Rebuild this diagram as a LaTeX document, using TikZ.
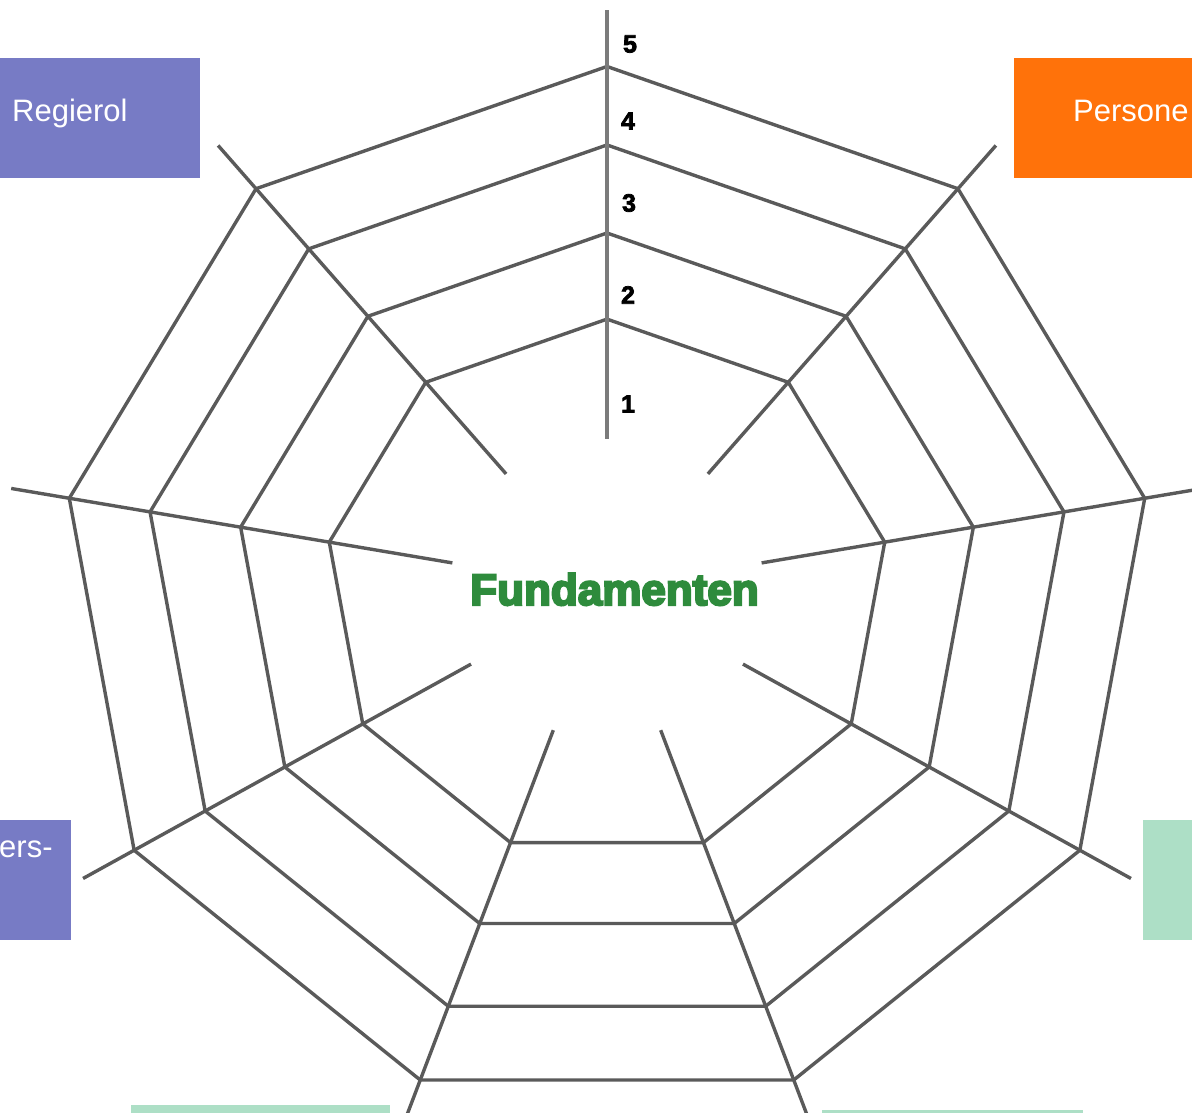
\documentclass[tikz,border=0pt]{standalone}
\usepackage{fontspec}
\setmainfont{Liberation Sans}
\newfontfamily\heavyfont[FakeBold=5]{Liberation Sans Bold}
\newfontfamily\scorefont[FakeBold=3]{Liberation Sans Bold}
\definecolor{regiepurple}{HTML}{777BC5}
\definecolor{personeelorange}{HTML}{FF720A}
\definecolor{mintgreen}{HTML}{ADDFC6}
\definecolor{fundgreen}{HTML}{2E8B3C}
\definecolor{webgray}{HTML}{5A5A5A}
\begin{document}
\begin{tikzpicture}[x=1pt,y=1pt,
    web/.style={draw=webgray,line width=3.4pt,line join=round},
    topspoke/.style={draw=webgray!80,line width=4.5pt},
    catbox/.style={anchor=north west,minimum height=120pt,inner sep=0pt},
    cattext/.style={anchor=base west,inner sep=0pt,text=white,font=\fontsize{31}{36}\selectfont},
    score/.style={inner sep=0pt,font=\scorefont\fontsize{25}{28}\selectfont}]
  \useasboundingbox (0,0) rectangle (1192,1112);
  \node[catbox,fill=regiepurple,minimum width=200pt] at (0,1054) (regie) {};
  \node[cattext] at (12,990) (regietext) {Regierol};
  \node[catbox,fill=personeelorange,minimum width=220pt] at (1014,1054) (personeel) {};
  \node[cattext] at (1073,990) (personeeltext) {Persone};
  \node[catbox,fill=regiepurple,minimum width=120pt] at (-49,292) (gebruikers) {};
  \node[cattext] at (-1,254) (gebruikerstext) {ers-};
  \node[catbox,fill=mintgreen,minimum width=100pt] at (1143,292) (rechts) {};
  \node[catbox,fill=mintgreen,minimum width=259pt] at (131,7) (onderlinks) {};
  \node[catbox,fill=mintgreen,minimum width=261pt] at (822,2) (onderrechts) {};
  \begin{scope}[shift={(607,523)},yscale=0.957]
    \coordinate (center) at (0,0);
    \foreach \k in {0,...,8}{
        \coordinate (in\k) at ({90+\k*40}:157);
        \coordinate (out\k) at ({90+\k*40}:605);
        \foreach \l/\r in {2/282,3/372,4/464,5/546}
            \coordinate (v\k-\l) at ({90+\k*40}:\r);
    }
    \foreach \k in {1,...,8}
        \draw[web] (in\k)--(out\k);
    \foreach \l in {2,...,5}
        \draw[web] (v0-\l)--(v1-\l)--(v2-\l)--(v3-\l)--(v4-\l)--(v5-\l)--(v6-\l)--(v7-\l)--(v8-\l)--cycle;
    \draw[topspoke] (in0)--(out0);
  \end{scope}
  \node[score] at (630,1068) (n5) {5};
  \node[score] at (628,991) (n4) {4};
  \node[score] at (629,909) (n3) {3};
  \node[score] at (628,817) (n2) {2};
  \node[score] at (628,708) (n1) {1};
  \node[anchor=base,inner sep=0pt,text=fundgreen,font=\heavyfont\fontsize{44}{50}\selectfont] at (614.5,507) (fundamenten) {Fundamenten};
\end{tikzpicture}
\end{document}
